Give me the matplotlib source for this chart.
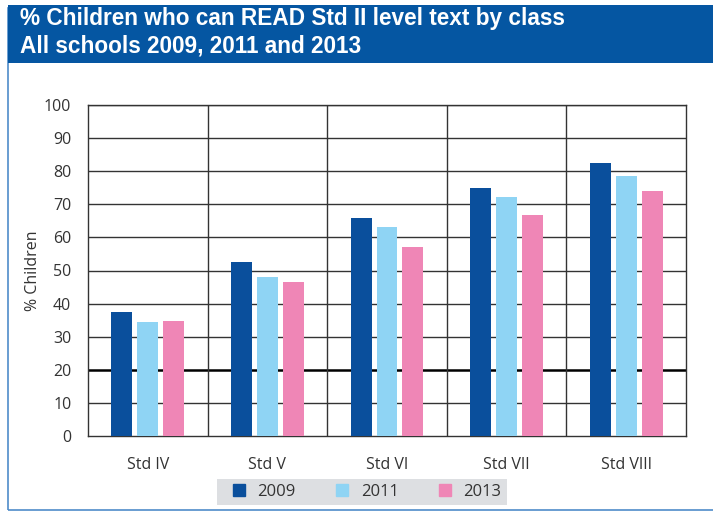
import matplotlib.pyplot as plt
import matplotlib.patches as mpatches
import numpy as np

# data
classes = ['Std IV', 'Std V', 'Std VI', 'Std VII', 'Std VIII']
years = ['2009', '2011', '2013']
read_2009 = [37.5, 52.7, 65.9, 75.0, 82.5]
read_2011 = [34.5, 48.0, 63.1, 72.2, 78.7]
read_2013 = [34.8, 46.5, 57.1, 66.7, 73.9]
yticks = [0, 10, 20, 30, 40, 50, 60, 70, 80, 90, 100]

colors = ['#0a4f9c', '#8fd4f4', '#ef86b6']
series = [read_2009, read_2011, read_2013]

plt.rcParams['font.family'] = ['Open Sans', 'DejaVu Sans']
fig = plt.figure(figsize=(7.13, 5.15), dpi=100)

# title band and frame
fig.patches.append(mpatches.Rectangle((8 / 713, 0.01), 1, 0.985 - 0.01, transform=fig.transFigure,
                                      facecolor='none', edgecolor='#4f8cc9', lw=1.2, zorder=0))
fig.patches.append(mpatches.Rectangle((8 / 713, (515 - 63) / 515), 1, 58 / 515,
                                      transform=fig.transFigure, facecolor='#0556a2',
                                      edgecolor='none', zorder=1))
fig.text(20 / 713, (515 - 19) / 515, '% Children who can READ Std II level text by class',
         color='white', fontsize=16.3, fontweight='bold', family='Liberation Sans',
         va='center', ha='left')
fig.text(20 / 713, (515 - 46) / 515, 'All schools 2009, 2011 and 2013',
         color='white', fontsize=16.3, fontweight='bold', family='Liberation Sans',
         va='center', ha='left')

ax = fig.add_axes([88 / 713, (515 - 436) / 515, (686 - 88) / 713, (436 - 105) / 515])
ax.set_zorder(2)
x = np.arange(len(classes))
width = 0.175
offsets = [-0.217, 0, 0.217]
for vals, col, off, yr in zip(series, colors, offsets, years):
    ax.bar(x + off, vals, width, color=col, label=yr, zorder=3)

ax.set_xlim(-0.5, len(classes) - 0.5)
ax.set_ylim(0, 100)
ax.set_yticks(yticks)
ax.set_xticks(x)
ax.set_xticklabels(classes)
for yv in yticks[1:]:
    if yv == 20:
        ax.axhline(yv, color='black', lw=1.8, zorder=1)
    else:
        ax.axhline(yv, color='#333333', lw=1.0, zorder=1)
for xv in x[:-1] + 0.5:
    ax.axvline(xv, color='#333333', lw=1.0, zorder=1)
for sp in ax.spines.values():
    sp.set_color('#333333')
    sp.set_linewidth(1.0)
ax.tick_params(axis='both', length=0, colors='#333333', labelsize=11.5)
ax.tick_params(axis='y', pad=12)
ax.tick_params(axis='x', pad=15)
ax.set_ylabel('% Children', fontsize=11.5, color='#333333', labelpad=2)

handles = [plt.Line2D([], [], marker='s', ls='none', color=c, markersize=8) for c in colors]
leg = fig.legend(handles, years, loc='center', bbox_to_anchor=(362 / 713, (515 - 492) / 515),
                 ncol=3, frameon=True, fontsize=12, handletextpad=0.1, columnspacing=1.8,
                 borderpad=0.3, fancybox=False)
leg.get_frame().set_facecolor('#d5d8db')
leg.get_frame().set_edgecolor('none')
for t in leg.get_texts():
    t.set_color('#333333')

fig.savefig('out.png', dpi=100)
